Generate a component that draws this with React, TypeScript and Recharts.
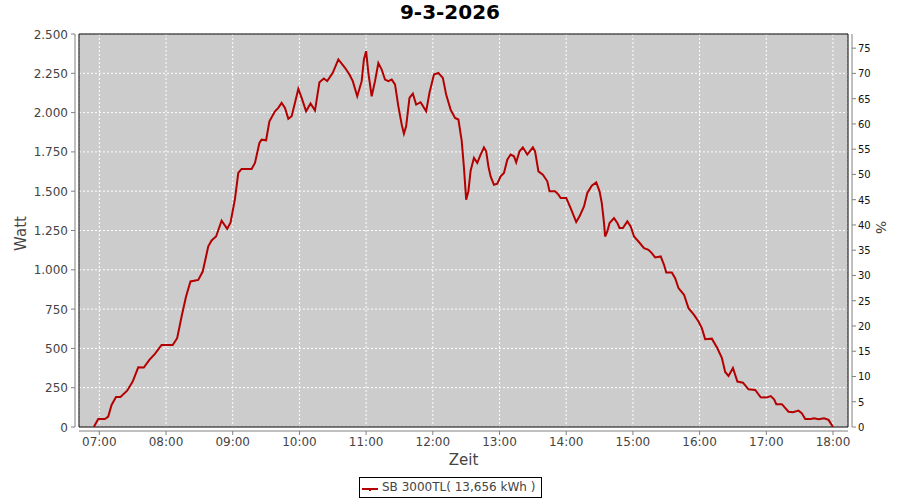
import React from 'react';
import { LineChart, Line, XAxis, YAxis, CartesianGrid, ReferenceLine, ReferenceArea } from 'recharts';

const chartTitle = '9-3-2026';
const seriesName = 'SB 3000TL( 13,656 kWh )';
const xAxisLabel = 'Zeit';
const leftAxisLabel = 'Watt';
const rightAxisLabel = '%';

const times = [
  '06:55', '06:59', '07:05', '07:08', '07:11', '07:15', '07:19', '07:25', '07:30', '07:35',
  '07:40', '07:45', '07:50', '07:56', '08:06', '08:10', '08:14', '08:18', '08:22', '08:29',
  '08:33', '08:38', '08:41', '08:45', '08:50', '08:55', '08:58', '09:02', '09:05', '09:08',
  '09:17', '09:20', '09:24', '09:26', '09:30', '09:33', '09:38', '09:41', '09:44', '09:47',
  '09:50', '09:53', '09:56', '09:59', '10:02', '10:06', '10:10', '10:14', '10:18', '10:22',
  '10:25', '10:30', '10:35', '10:41', '10:45', '10:48', '10:52', '10:56', '10:58', '11:00',
  '11:02', '11:05', '11:08', '11:11', '11:14', '11:17', '11:20', '11:23', '11:26', '11:29',
  '11:32', '11:34', '11:36', '11:39', '11:42', '11:45', '11:49', '11:54', '11:57', '12:01',
  '12:05', '12:09', '12:12', '12:16', '12:20', '12:23', '12:26', '12:28', '12:30', '12:32',
  '12:34', '12:37', '12:40', '12:43', '12:46', '12:48', '12:50', '12:52', '12:55', '12:58',
  '13:01', '13:04', '13:07', '13:10', '13:13', '13:15', '13:18', '13:21', '13:25', '13:30',
  '13:32', '13:35', '13:39', '13:43', '13:45', '13:50', '13:53', '13:55', '14:00', '14:04',
  '14:09', '14:12', '14:16', '14:19', '14:23', '14:27', '14:30', '14:32', '14:34', '14:35',
  '14:37', '14:39', '14:43', '14:46', '14:48', '14:51', '14:55', '14:58', '15:01', '15:05',
  '15:10', '15:14', '15:17', '15:20', '15:25', '15:28', '15:30', '15:35', '15:38', '15:41',
  '15:46', '15:50', '15:55', '15:59', '16:02', '16:05', '16:11', '16:16', '16:20', '16:23',
  '16:26', '16:30', '16:34', '16:39', '16:44', '16:50', '16:55', '17:00', '17:04', '17:07',
  '17:09', '17:14', '17:20', '17:24', '17:29', '17:32', '17:35', '17:40', '17:43', '17:47',
  '17:52', '17:56', '18:00',
];

const watts = [
  0, 51, 51, 66, 140, 191, 191, 231, 289, 380,
  378, 427, 465, 522, 522, 565, 703, 830, 926, 936,
  989, 1149, 1187, 1212, 1312, 1261, 1300, 1450, 1616, 1642,
  1642, 1680, 1807, 1828, 1824, 1945, 2008, 2030, 2062, 2030,
  1960, 1977, 2062, 2151, 2094, 2008, 2058, 2013, 2193, 2217,
  2200, 2253, 2338, 2285, 2242, 2200, 2104, 2200, 2338, 2391,
  2253, 2104, 2200, 2315, 2274, 2210, 2200, 2210, 2179, 2040,
  1924, 1866, 1913, 2094, 2121, 2051, 2066, 2008, 2126, 2242,
  2253, 2221, 2115, 2019, 1966, 1956, 1820, 1650, 1446, 1500,
  1630, 1712, 1680, 1733, 1778, 1754, 1658, 1594, 1541, 1548,
  1594, 1616, 1700, 1733, 1722, 1684, 1754, 1779, 1733, 1779,
  1754, 1626, 1605, 1563, 1499, 1499, 1478, 1457, 1457, 1393,
  1304, 1340, 1403, 1489, 1535, 1556, 1499, 1425, 1298, 1212,
  1244, 1298, 1329, 1298, 1266, 1266, 1308, 1276, 1212, 1180,
  1138, 1127, 1106, 1079, 1085, 1032, 983, 983, 947, 884,
  841, 756, 713, 671, 629, 559, 562, 501, 440, 350,
  325, 376, 289, 282, 240, 236, 189, 187, 197, 176,
  145, 145, 97, 94, 104, 87, 51, 51, 55, 49,
  55, 45, 0,
];

const xTickLabels = ['07:00', '08:00', '09:00', '10:00', '11:00', '12:00', '13:00', '14:00', '15:00', '16:00', '17:00', '18:00'];
const wattTicks = [0, 250, 500, 750, 1000, 1250, 1500, 1750, 2000, 2250, 2500];
const pctTicks = [0, 5, 10, 15, 20, 25, 30, 35, 40, 45, 50, 55, 60, 65, 70, 75];
const xDomainStart = '06:41.7';
const xDomainEnd = '18:13.5';
const wattMax = 2500;
const pctMax = 77.8;

const toMin = (s: string) => {
  const [h, m] = s.split(':');
  return parseInt(h, 10) * 60 + parseFloat(m);
};
const fmtTime = (v: number) => {
  const h = Math.floor(v / 60);
  const m = Math.round(v - h * 60);
  return `${String(h).padStart(2, '0')}:${String(m).padStart(2, '0')}`;
};
const fmtWatt = (v: number) => {
  const s = String(Math.round(v));
  return s.replace(/\B(?=(\d{3})+(?!\d))/g, '.');
};

const data = times.map((t, i) => ({ t: toMin(t), w: watts[i] }));
const xTicks = xTickLabels.map(toMin);
const xMin = toMin(xDomainStart);
const xMax = toMin(xDomainEnd);

const FONT = '"DejaVu Sans", Verdana, sans-serif';
const AXIS_GRAY = '#808080';
const LINE_RED = '#b40000';

const XTick = (p: any) => (
  <g>
    <line x1={p.x} x2={p.x} y1={p.y + 4} y2={p.y + 8} stroke={AXIS_GRAY} />
    <text x={p.x} y={p.y + 19} textAnchor="middle" fontSize={12} fontFamily={FONT} fill="#444">
      {fmtTime(p.payload.value)}
    </text>
  </g>
);
const LeftTick = (p: any) => (
  <g>
    <line x1={p.x - 4} x2={p.x - 8} y1={p.y} y2={p.y} stroke={AXIS_GRAY} />
    <text x={p.x - 11} y={p.y + 4.5} textAnchor="end" fontSize={12} fontFamily={FONT} fill="#444">
      {fmtWatt(p.payload.value)}
    </text>
  </g>
);
const RightTick = (p: any) => (
  <g>
    <line x1={p.x + 4} x2={p.x + 8} y1={p.y} y2={p.y} stroke={AXIS_GRAY} />
    <text x={p.x + 10} y={p.y + 4} textAnchor="start" fontSize={10} fontFamily={FONT} fill="#111">
      {p.payload.value}
    </text>
  </g>
);

const shiftLine = (dx: number, dy: number) => (p: any) => (
  <line x1={p.x1 + dx} x2={p.x2 + dx} y1={p.y1 + dy} y2={p.y2 + dy} stroke={AXIS_GRAY} strokeWidth={1} />
);

const XLabel = (p: any) => {
  const vb = p.viewBox;
  return (
    <text x={vb.x + vb.width / 2} y={vb.y + 38} textAnchor="middle" fontSize={15} fontFamily={FONT} fill="#444">
      {xAxisLabel}
    </text>
  );
};
const LeftLabel = (p: any) => {
  const vb = p.viewBox;
  const cy = vb.y + vb.height / 2 + 3;
  return (
    <text x={26} y={cy} transform={`rotate(-90, 26, ${cy})`} textAnchor="middle" fontSize={15} fontFamily={FONT} fill="#444">
      {leftAxisLabel}
    </text>
  );
};
const RightLabel = (p: any) => {
  const vb = p.viewBox;
  const cy = vb.y + vb.height / 2 - 3;
  const x = vb.x + 28;
  return (
    <text x={x} y={cy} transform={`rotate(90, ${x}, ${cy})`} textAnchor="middle" fontSize={14} fontFamily={FONT} fill="#444">
      {rightAxisLabel}
    </text>
  );
};

export default function App() {
  return (
    <div style={{ position: 'absolute', left: 0, top: 0, width: 900, height: 500, background: '#fff' }}>
      <div
        style={{
          position: 'absolute', left: 0, top: 0, width: 900, textAlign: 'center',
          fontFamily: FONT, fontWeight: 'bold', fontSize: 20, lineHeight: '24px', color: '#000', paddingTop: 0,
        }}
      >
        {chartTitle}
      </div>
      <LineChart width={900} height={500} data={data} margin={{ top: 34, right: 0, left: 0, bottom: 43 }}>
        <CartesianGrid yAxisId="w" fill="#cccccc" stroke="#ffffff" strokeDasharray="2 2" horizontalPoints={undefined} />
        <XAxis
          dataKey="t"
          type="number"
          domain={[xMin, xMax]}
          allowDataOverflow
          ticks={xTicks}
          interval={0}
          height={30}
          axisLine={false}
          tickLine={false}
          tickSize={0}
          tickMargin={0}
          tick={<XTick />}
          label={<XLabel />}
        />
        <YAxis
          yAxisId="w"
          type="number"
          domain={[0, wattMax]}
          allowDataOverflow
          ticks={wattTicks}
          interval={0}
          width={79}
          axisLine={false}
          tickLine={false}
          tickSize={0}
          tickMargin={0}
          tick={<LeftTick />}
          label={<LeftLabel />}
        />
        <YAxis
          yAxisId="p"
          orientation="right"
          type="number"
          domain={[0, pctMax]}
          allowDataOverflow
          ticks={pctTicks}
          interval={0}
          width={52}
          axisLine={false}
          tickLine={false}
          tickSize={0}
          tickMargin={0}
          tick={<RightTick />}
          label={<RightLabel />}
        />
        <ReferenceArea yAxisId="w" x1={xMin} x2={xMax} y1={0} y2={wattMax} fill="none" stroke="#000" strokeWidth={1} ifOverflow="visible" />
        <ReferenceLine yAxisId="w" x={xMin} ifOverflow="visible" shape={shiftLine(-4, 0)} />
        <ReferenceLine yAxisId="w" x={xMax} ifOverflow="visible" shape={shiftLine(4, 0)} />
        <ReferenceLine yAxisId="w" y={0} ifOverflow="visible" shape={shiftLine(0, 4)} />
        <Line
          yAxisId="w"
          type="linear"
          dataKey="w"
          stroke={LINE_RED}
          strokeWidth={2}
          dot={false}
          activeDot={false}
          isAnimationActive={false}
        />
      </LineChart>
      <div
        style={{
          position: 'absolute', left: 359, top: 477, width: 183, height: 21, boxSizing: 'border-box',
          border: '1px solid #000', background: '#fff', fontFamily: FONT, fontSize: 12, color: '#444',
          display: 'flex', alignItems: 'center',
        }}
      >
        <svg width={20} height={19} style={{ display: 'block', marginLeft: 1 }}>
          <line x1={1} x2={17} y1={11} y2={11} stroke={LINE_RED} strokeWidth={2} />
          <line x1={9} x2={9} y1={11} y2={13} stroke={LINE_RED} strokeWidth={2} />
        </svg>
        <span style={{ marginLeft: 1, whiteSpace: 'nowrap', lineHeight: '19px' }}>{seriesName}</span>
      </div>
    </div>
  );
}
